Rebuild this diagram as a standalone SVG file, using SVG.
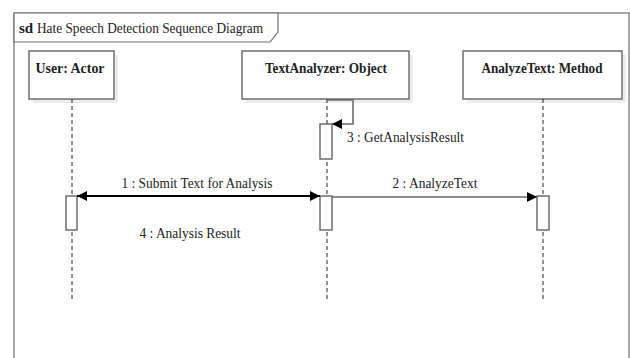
<svg xmlns="http://www.w3.org/2000/svg" width="630" height="358" viewBox="0 0 630 358" font-family="'Liberation Serif', 'DejaVu Serif', serif">
<style>
text{font-family:'Liberation Serif','DejaVu Serif',serif;fill:#222}
.box{fill:#fff;stroke:#6e6e6e;stroke-width:1.5}
.shadow{fill:#ececec}
.life{stroke:#222;stroke-width:1;stroke-dasharray:4 3;fill:none}
.act{fill:#fff;stroke:#6e6e6e;stroke-width:1.5}
.msg{stroke:#666;stroke-width:1.5;fill:none}
.lbl{font-size:15px;text-anchor:middle}
.name{font-size:15px;font-weight:bold;text-anchor:middle}
</style>
<defs>
<marker id="ah" viewBox="0 0 10 10" refX="10" refY="5" markerWidth="10" markerHeight="10" markerUnits="userSpaceOnUse" orient="auto-start-reverse">
<path d="M0,0 L10,5 L0,10 Z" fill="#000"/>
</marker>
</defs>
<rect width="630" height="358" fill="#fff"/>
<g id="frame">
<path d="M14,360 V13 H629 V360" fill="none" stroke="#8a8a8a" stroke-width="1.5"/>
<path d="M14,13 H278 V32 L270,42 H14 Z" fill="#fff" stroke="#6e6e6e" stroke-width="1.2"/>
<text x="19" y="33" font-size="15" font-weight="bold">sd</text>
<text x="37" y="33" font-size="15" textLength="226" lengthAdjust="spacingAndGlyphs">Hate Speech Detection Sequence Diagram</text>
</g>
<g id="user">
<rect class="shadow" x="33" y="55" width="85" height="48"/>
<rect class="box" x="29" y="51" width="85" height="48"/>
<text class="name" x="70" y="73" textLength="69" lengthAdjust="spacingAndGlyphs">User: Actor</text>
<line class="life" x1="72" y1="99" x2="72" y2="300"/>
<rect class="act" x="66" y="196" width="11" height="34"/>
</g>
<g id="textanalyzer">
<rect class="shadow" x="246" y="55" width="167" height="48"/>
<rect class="box" x="242" y="51" width="167" height="48"/>
<text class="name" x="326" y="73" textLength="122" lengthAdjust="spacingAndGlyphs">TextAnalyzer: Object</text>
<line class="life" x1="327" y1="99" x2="327" y2="300"/>
<rect class="act" x="320" y="124" width="12" height="35"/>
<rect class="act" x="320" y="196" width="12" height="34"/>
</g>
<g id="analyzetext">
<rect class="shadow" x="467" y="55" width="159" height="48"/>
<rect class="box" x="463" y="51" width="159" height="48"/>
<text class="name" x="542" y="73" textLength="121" lengthAdjust="spacingAndGlyphs">AnalyzeText: Method</text>
<line class="life" x1="543" y1="99" x2="543" y2="300"/>
<rect class="act" x="537" y="196" width="12" height="34"/>
</g>
<g id="connectors">
<line x1="77" y1="196" x2="320" y2="196" stroke="#000" stroke-width="2" marker-start="url(#ah)" marker-end="url(#ah)"/>
<text class="lbl" x="197" y="188" textLength="151" lengthAdjust="spacingAndGlyphs">1 : Submit Text for Analysis</text>
<text class="lbl" x="190" y="238" textLength="101" lengthAdjust="spacingAndGlyphs">4 : Analysis Result</text>
<line class="msg" x1="332" y1="197" x2="537" y2="197" marker-end="url(#ah)"/>
<text class="lbl" x="435" y="188" textLength="85" lengthAdjust="spacingAndGlyphs">2 : AnalyzeText</text>
<path class="msg" d="M327,100 H353 V124 H332" marker-end="url(#ah)"/>
<text x="347" y="142" font-size="15" textLength="117" lengthAdjust="spacingAndGlyphs">3 : GetAnalysisResult</text>
</g>
</svg>
